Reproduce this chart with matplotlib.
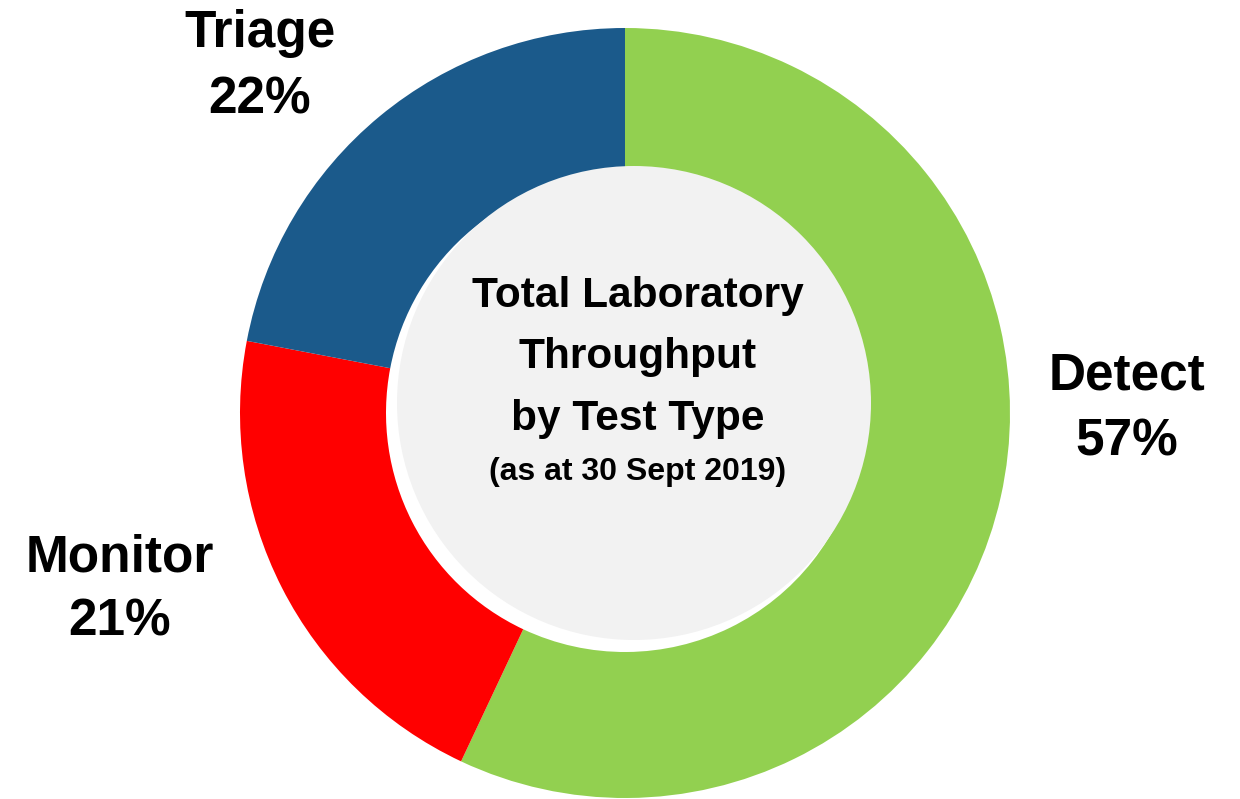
import numpy as np
import matplotlib.pyplot as plt
from matplotlib.patches import Circle

plt.rcParams['font.family'] = ['Liberation Sans', 'DejaVu Sans']

# Data
categories = ['Detect', 'Monitor', 'Triage']
shares = [57, 21, 22]
colors = ['#92D050', '#FF0000', '#1B5A8B']

title_lines = ['Total Laboratory', 'Throughput', 'by Test Type']
subtitle = '(as at 30 Sept 2019)'

W, H = 1240, 799
fig = plt.figure(figsize=(W / 100, H / 100), dpi=100)
ax = fig.add_axes([0, 0, 1, 1])

# donut geometry in pixel units (y up)
cx, cy = 625, H - 413
r_out = 385
r_in = 239

ax.pie(shares, colors=colors, startangle=90, counterclock=False,
       radius=r_out, center=(cx, cy),
       wedgeprops=dict(width=r_out - r_in, linewidth=0))

# grey centre disc, slightly shifted up-right
ax.add_patch(Circle((cx + 9, cy + 10), 237, facecolor='#F2F2F2',
                    edgecolor='none', zorder=5))

ax.set_xlim(0, W)
ax.set_ylim(0, H)
ax.set_aspect('equal')
ax.axis('off')

# outer labels: (name x, name baseline, pct baseline) in pixel coords from top
label_pos = {
    'Detect': (1127, 390, 455),
    'Monitor': (120, 572, 635),
    'Triage': (260, 47, 113),
}
for name, val in zip(categories, shares):
    x, yb1, yb2 = label_pos[name]
    ax.text(x, H - yb1, name, ha='center', va='baseline', fontsize=37,
            fontweight='bold', zorder=10)
    ax.text(x, H - yb2, f'{val}%', ha='center', va='baseline', fontsize=37,
            fontweight='bold', zorder=10)

# centre title
for line, yb in zip(title_lines, [307, 368, 430]):
    ax.text(638, H - yb, line, ha='center', va='baseline', fontsize=30.5,
            fontweight='bold', zorder=10)
ax.text(638, H - 480, subtitle, ha='center', va='baseline', fontsize=23,
        fontweight='bold', zorder=10)

fig.savefig('out.png', dpi=100)
